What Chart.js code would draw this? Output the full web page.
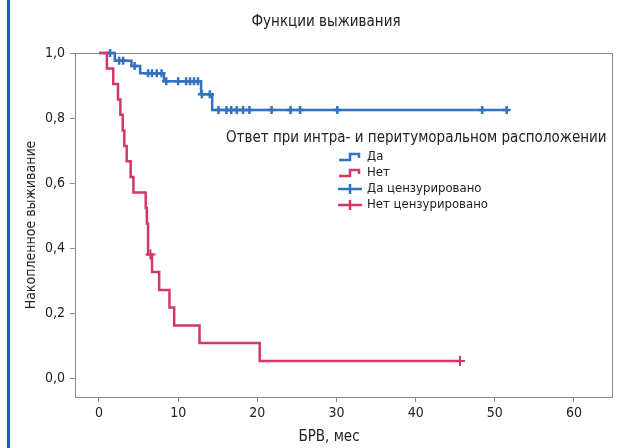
<!DOCTYPE html>
<html><head><meta charset="utf-8">
<script src="https://cdn.jsdelivr.net/npm/chart.js@4/dist/chart.umd.min.js"></script>
<style>
html,body{margin:0;padding:0;background:#fff;}
#wrap{position:relative;width:633px;height:448px;}
#bar{position:absolute;left:7px;top:0;width:3px;height:448px;background:#1f5fae;}
canvas{position:absolute;left:0;top:0;}
</style></head><body>
<div id="wrap"><canvas id="c" width="633" height="448"></canvas><div id="bar"></div></div>
<script>
const FONT = '"Liberation Sans Narrow", "DejaVu Sans Condensed", sans-serif';
const chartTitle = 'Функции выживания';
const legendTitle = 'Ответ при интра- и перитуморальном расположении';
const seriesNames = ['Да', 'Нет', 'Да цензурировано', 'Нет цензурировано'];
const xLabel = 'БРВ, мес';
const yLabel = 'Накопленное выживание';
const xTicks = [0, 10, 20, 30, 40, 50, 60];
const yTicks = [0, 0.2, 0.4, 0.6, 0.8, 1.0];

// "Да" step curve (time, survival after the step)
const yesTimes = [0, 2.0, 4.1, 5.2, 8.2, 12.9, 14.3, 51.5];
const yesSurv  = [1, 0.976, 0.96, 0.938, 0.913, 0.873, 0.825, 0.825];
// "Нет" step curve
const noTimes = [0, 1.0, 1.8, 2.4, 2.7, 3.0, 3.2, 3.5, 4.0, 4.35, 5.9, 6.05, 6.2, 6.7, 7.6, 8.9, 9.5, 12.7, 20.3, 45.6];
const noSurv  = [1, 0.952, 0.905, 0.857, 0.810, 0.762, 0.714, 0.667, 0.619, 0.571, 0.524, 0.476, 0.381, 0.327, 0.272, 0.218, 0.163, 0.109, 0.054, 0.054];
// censored marks
const yesCensTimes = [1.4, 2.55, 3.05, 4.5, 6.2, 6.7, 7.3, 7.9, 8.5, 10.0, 11.0, 11.5, 12.0, 12.5, 13.0, 14.0, 15.1, 16.1, 16.7, 17.4, 18.2, 19.0, 21.8, 24.2, 25.4, 30.1, 48.4, 51.5];
const yesCensSurv  = [1.0, 0.976, 0.976, 0.96, 0.938, 0.938, 0.938, 0.938, 0.913, 0.913, 0.913, 0.913, 0.913, 0.913, 0.873, 0.873, 0.825, 0.825, 0.825, 0.825, 0.825, 0.825, 0.825, 0.825, 0.825, 0.825, 0.825, 0.825];
const noCensTimes = [6.5, 45.6];
const noCensSurv  = [0.381, 0.054];

const BLUE = '#3272bf';
const RED = '#d2386a';
const GRAY = '#8c8c8c';
const TXT = '#222';

const pts = (xs, ys) => xs.map((x, i) => ({x: x, y: ys[i]}));

const deco = {
  id: 'deco',
  beforeDatasetsDraw(chart) {
    const ctx = chart.ctx, a = chart.chartArea;
    ctx.save();
    ctx.strokeStyle = GRAY; ctx.lineWidth = 1;
    ctx.strokeRect(Math.round(a.left) + 0.5, Math.round(a.top) + 0.5, Math.round(a.right - a.left), Math.round(a.bottom - a.top));
    ctx.restore();
  },
  afterDraw(chart) {
    const ctx = chart.ctx;
    ctx.save();
    ctx.fillStyle = TXT;
    ctx.textBaseline = 'middle';
    ctx.font = '15px ' + FONT;
    ctx.textAlign = 'center';
    ctx.fillText(chartTitle, 326, 22);
    ctx.fillText(xLabel, 329, 437);
    ctx.textAlign = 'left';
    ctx.fillText(legendTitle, 226, 138);
    ctx.font = '13px ' + FONT;
    const rows = [157, 173, 189, 205];
    const cols = [BLUE, RED, BLUE, RED];
    rows.forEach((y, i) => {
      ctx.strokeStyle = cols[i]; ctx.lineWidth = 2.5;
      ctx.beginPath();
      if (i < 2) {
        ctx.moveTo(339, y + 3); ctx.lineTo(350, y + 3); ctx.lineTo(350, y - 3); ctx.lineTo(359, y - 3); ctx.lineTo(359, y + 1);
      } else {
        ctx.moveTo(338, y); ctx.lineTo(362, y); ctx.moveTo(350, y - 5); ctx.lineTo(350, y + 5);
      }
      ctx.stroke();
      ctx.fillStyle = TXT;
      ctx.fillText(seriesNames[i], 367, y);
    });
    ctx.restore();
  }
};

new Chart(document.getElementById('c'), {
  type: 'scatter',
  data: {
    datasets: [
      {label: seriesNames[0], data: pts(yesTimes, yesSurv), showLine: true, stepped: 'before', borderColor: BLUE, borderWidth: 2.5, pointRadius: 0, clip: false, order: 2},
      {label: seriesNames[1], data: pts(noTimes, noSurv), showLine: true, stepped: 'before', borderColor: RED, borderWidth: 2.5, pointRadius: 0, clip: false, order: 1},
      {label: seriesNames[2], data: pts(yesCensTimes, yesCensSurv), showLine: false, pointStyle: 'cross', pointRadius: 4, borderColor: BLUE, borderWidth: 2.5, clip: false, order: 2},
      {label: seriesNames[3], data: pts(noCensTimes, noCensSurv), showLine: false, pointStyle: 'cross', pointRadius: 5, borderColor: RED, borderWidth: 2, clip: false, order: 1}
    ]
  },
  options: {
    responsive: false,
    animation: false,
    layout: {padding: {top: 53, right: 21, left: 0, bottom: 0}},
    plugins: {legend: {display: false}, title: {display: false}, tooltip: {enabled: false}},
    scales: {
      x: {
        type: 'linear', min: -3.03, max: 64.8,
        afterFit: s => { s.height = 51; },
        afterBuildTicks: s => { s.ticks = xTicks.map(v => ({value: v})); },
        grid: {drawOnChartArea: false, drawTicks: true, tickLength: 5, color: GRAY},
        border: {display: false},
        ticks: {font: {family: FONT, size: 14}, color: TXT, padding: 3, maxRotation: 0},
        title: {display: false}
      },
      y: {
        type: 'linear', min: -0.057, max: 1.0,
        afterFit: s => { s.width = 75; },
        afterBuildTicks: s => { s.ticks = yTicks.map(v => ({value: v})); },
        grid: {drawOnChartArea: false, drawTicks: true, tickLength: 5, color: GRAY},
        border: {display: false},
        ticks: {font: {family: FONT, size: 14}, color: TXT, padding: 5, callback: v => v.toFixed(1).replace('.', ',')},
        title: {display: true, text: yLabel, font: {family: FONT, size: 14}, color: TXT, padding: {top: 23, bottom: 0}}
      }
    }
  },
  plugins: [deco]
});
</script>
</body></html>
